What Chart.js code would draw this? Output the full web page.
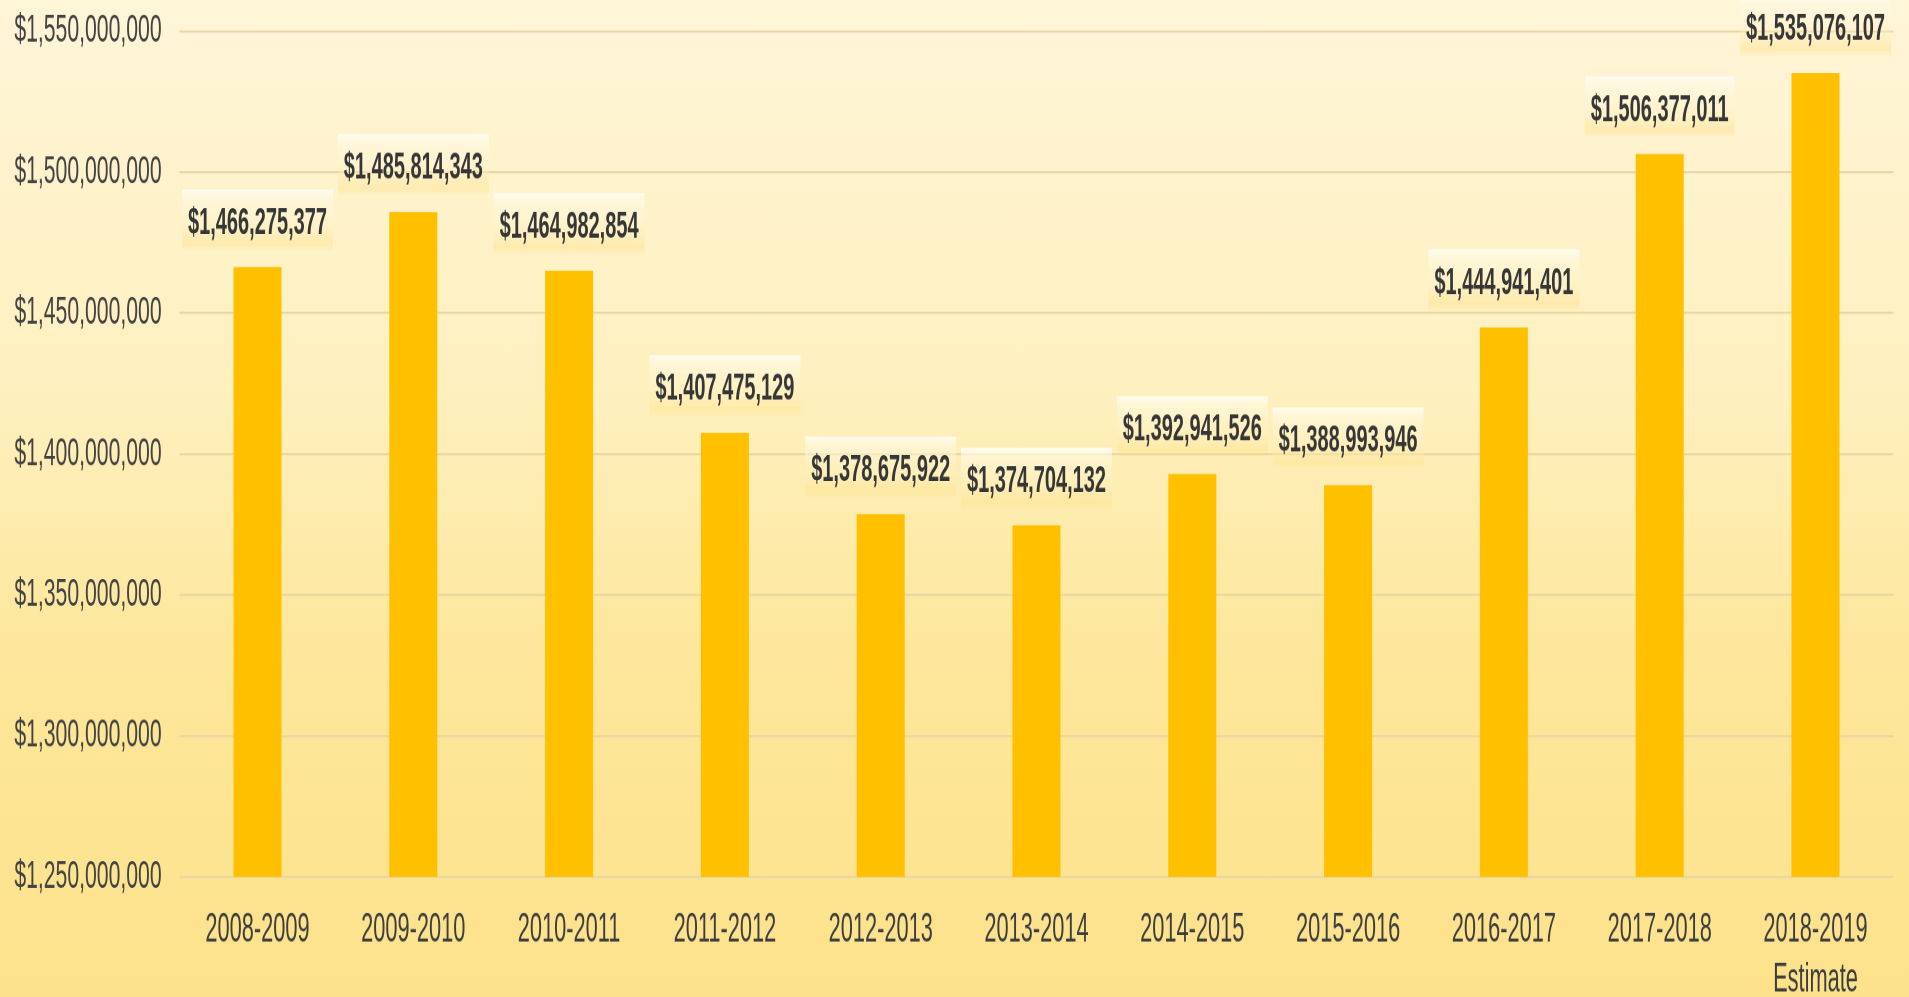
<!DOCTYPE html>
<html>
<head>
<meta charset="utf-8">
<script src="https://cdn.jsdelivr.net/npm/chart.js@4"></script>
<style>
  html, body {
    margin: 0; padding: 0; width: 1909px; height: 997px; overflow: hidden;
    background: linear-gradient(to bottom, #fff5d8 0%, #fef0be 40%, #fde79c 65%, #fde28b 100%);
  }
  /* the chart is laid out on a shorter canvas and stretched vertically,
     which gives the tall, condensed lettering of the slide */
  #wrap {
    position: absolute; left: 0; top: 0; width: 1909px; height: 539px;
    transform-origin: 0 0; transform: scaleY(1.84972);
  }
</style>
</head>
<body>
<div id="wrap"><canvas id="c"></canvas></div>
<script>
const schoolYears = [
  '2008-2009', '2009-2010', '2010-2011', '2011-2012', '2012-2013', '2013-2014',
  '2014-2015', '2015-2016', '2016-2017', '2017-2018', ['2018-2019', 'Estimate']
];
const fundingTotals = [
  1466275377, 1485814343, 1464982854, 1407475129, 1378675922, 1374704132,
  1392941526, 1388993946, 1444941401, 1506377011, 1535076107
];
const yTickValues = [1250000000, 1300000000, 1350000000, 1400000000, 1450000000, 1500000000, 1550000000];
const yTickLabels = ['$1,250,000,000', '$1,300,000,000', '$1,350,000,000', '$1,400,000,000',
                     '$1,450,000,000', '$1,500,000,000', '$1,550,000,000'];

const FONT = "'Liberation Sans', Arial, sans-serif";
const money = v => '$' + v.toLocaleString('en-US');

// value captions above each bar, on a soft glowing strip
const valueCaptions = {
  id: 'valueCaptions',
  afterDatasetsDraw(chart) {
    const ctx = chart.ctx;
    const meta = chart.getDatasetMeta(0);
    const values = chart.data.datasets[0].data;
    ctx.save();
    ctx.font = `bold 20px ${FONT}`;
    ctx.textAlign = 'center';
    ctx.textBaseline = 'middle';
    meta.data.forEach((bar, i) => {
      const w = ctx.measureText(money(values[i])).width + 12;
      const top = bar.y - 42, h = 33;
      const g = ctx.createLinearGradient(0, top, 0, top + h);
      g.addColorStop(0, 'rgba(255,254,246,0.9)');
      g.addColorStop(0.14, 'rgba(255,250,230,0.6)');
      g.addColorStop(0.5, 'rgba(255,245,208,0.35)');
      g.addColorStop(0.88, 'rgba(254,228,150,0.55)');
      g.addColorStop(1, 'rgba(253,222,130,0)');
      ctx.fillStyle = g;
      ctx.fillRect(bar.x - w / 2, top, w, h);
    });
    ctx.fillStyle = '#363636';
    meta.data.forEach((bar, i) => {
      ctx.fillText(money(values[i]), bar.x, bar.y - 23.5);
    });
    ctx.restore();
  }
};

new Chart(document.getElementById('c'), {
  type: 'bar',
  data: {
    labels: schoolYears,
    datasets: [{
      data: fundingTotals,
      backgroundColor: '#ffc000',
      borderWidth: 0,
      categoryPercentage: 1,
      barPercentage: 0.308
    }]
  },
  options: {
    responsive: true,
    maintainAspectRatio: false,
    devicePixelRatio: 2,
    animation: false,
    layout: { padding: { top: 16.8, right: 15.6, left: 0, bottom: 0 } },
    plugins: { legend: { display: false }, tooltip: { enabled: false } },
    scales: {
      x: {
        grid: { display: false },
        border: { display: false },
        ticks: {
          color: '#3e3e3e',
          font: { family: FONT, size: 21.8, lineHeight: 1.24 },
          padding: 7.5,
          maxRotation: 0,
          autoSkip: false
        },
        afterFit: s => { s.height = 64.9; s.paddingLeft = 0; s.paddingRight = 0; }
      },
      y: {
        min: 1250000000,
        max: 1550000000,
        grid: { color: '#e8d6a4', lineWidth: 1.1, drawTicks: false },
        border: { display: false },
        ticks: {
          stepSize: 50000000,
          color: '#434343',
          font: { family: FONT, size: 21.2 },
          padding: 18,
          callback: v => yTickLabels[yTickValues.indexOf(v)] ?? ''
        },
        afterFit: s => { s.width = 179.6; s.paddingTop = 0; s.paddingBottom = 0; }
      }
    }
  },
  plugins: [valueCaptions]
});
</script>
</body>
</html>
